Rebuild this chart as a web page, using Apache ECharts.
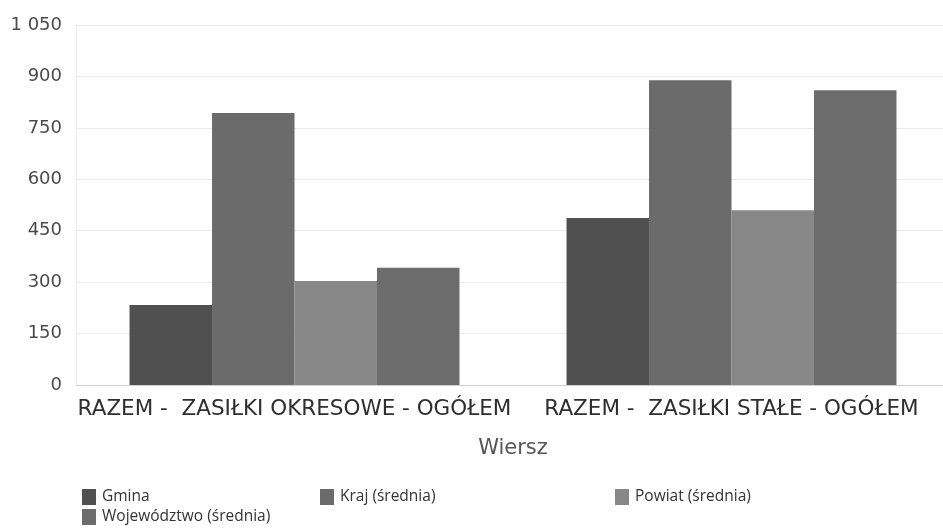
<!DOCTYPE html>
<html>
<head>
<meta charset="utf-8">
<script src="https://cdn.jsdelivr.net/npm/echarts@6/dist/echarts.min.js"></script>
<style>
html,body{margin:0;padding:0;background:#fff;}
#chart{width:943px;height:528px;}
</style>
</head>
<body>
<div id="chart"></div>
<script>
var categories = ['RAZEM -  ZASIŁKI OKRESOWE - OGÓŁEM', 'RAZEM -  ZASIŁKI STAŁE - OGÓŁEM'];
var seriesNames = ['Gmina', 'Kraj (średnia)', 'Powiat (średnia)', 'Województwo (średnia)'];
var gmina = [233, 487];
var kraj = [793, 889];
var powiat = [303, 510];
var wojewodztwo = [342, 860];
var yTicks = [0, 150, 300, 450, 600, 750, 900, 1050];

var colors = ['#505050', '#6b6b6b', '#878787', '#6c6c6c'];
var values = [gmina, kraj, powiat, wojewodztwo];
var font = 'Open Sans';
var wide = 'DejaVu Sans';

var chart = echarts.init(document.getElementById('chart'));
var legendPos = [[77, 484], [315, 484], [610, 484], [77, 504]];
var legends = seriesNames.map(function (n, i) {
  return {
    data: [n], left: legendPos[i][0], top: legendPos[i][1],
    itemWidth: 14, itemHeight: 16, itemGap: 6, icon: 'rect',
    selectedMode: false,
    textStyle: {fontFamily: font, fontSize: 15.5, color: '#333', padding: [0, 0, 0, 1]}
  };
});

chart.setOption({
  animation: false,
  textStyle: {fontFamily: font},
  legend: legends,
  grid: {left: 76, width: 874, top: 25, bottom: 143, outerBoundsMode: 'none', containLabel: false},
  xAxis: {
    type: 'category', data: categories,
    name: 'Wiersz', nameLocation: 'middle', nameGap: 53,
    nameTextStyle: {fontFamily: wide, fontSize: 21, color: '#555'},
    axisLine: {lineStyle: {color: '#d0d0d0', width: 1}},
    axisTick: {show: false},
    axisLabel: {fontFamily: wide, fontSize: 21.5, color: '#2e2e2e', margin: 13, interval: 0, hideOverlap: false}
  },
  yAxis: {
    type: 'value', min: yTicks[0], max: yTicks[yTicks.length - 1], interval: 150,
    axisLine: {show: true, lineStyle: {color: '#ebebeb'}}, axisTick: {show: false},
    splitLine: {lineStyle: {color: '#e9e9e9'}},
    axisLabel: {
      fontFamily: wide, fontSize: 18, color: '#4a4a4a', margin: 14,
      formatter: function (v) { return String(v).replace(/\B(?=(\d{3})+(?!\d))/g, ' '); }
    }
  },
  series: seriesNames.map(function (n, i) {
    return {
      name: n, type: 'bar', data: values[i],
      barGap: '0%', barCategoryGap: '24.5%',
      itemStyle: {color: colors[i]}
    };
  })
});
</script>
</body>
</html>
